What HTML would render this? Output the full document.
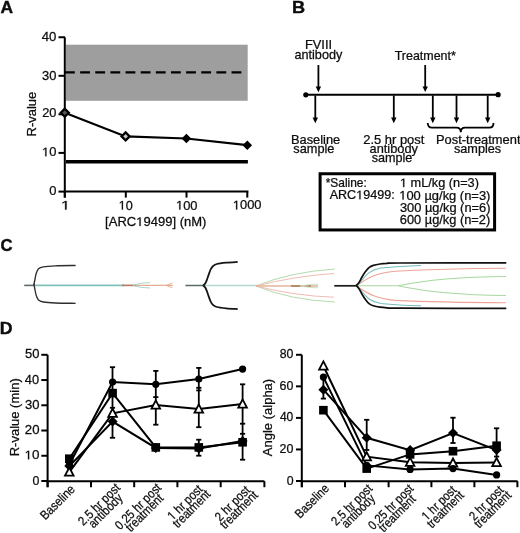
<!DOCTYPE html>
<html><head><meta charset="utf-8"><style>
html,body{margin:0;padding:0;background:#fff;overflow:hidden;}
svg{display:block;}
text{font-family:"Liberation Sans",sans-serif;fill:#0d0d0d;stroke:#0d0d0d;stroke-width:0.25px;}
svg{will-change:transform;}
</style></head><body>
<svg width="520" height="533" viewBox="0 0 520 533">
<rect x="0" y="0" width="520" height="533" fill="#fff"/>

<g transform="translate(0.47,12.7) scale(1.0250,1)"><text x="0.00" y="0.00" font-size="17" font-weight="bold" style="stroke-width:0.4px">A</text></g>
<rect x="66" y="44.7" width="181.7" height="56.1" fill="#9e9e9e"/>
<line x1="65" y1="72.4" x2="242" y2="72.4" stroke="#000" stroke-width="2.3" stroke-dasharray="9.8 5.34"/>
<line x1="66" y1="161.8" x2="247.9" y2="161.8" stroke="#000" stroke-width="3.6"/>
<line x1="64.8" y1="37.25" x2="64.8" y2="197.6" stroke="#000" stroke-width="2"/>
<line x1="64" y1="191.6" x2="248.4" y2="191.6" stroke="#000" stroke-width="2"/>
<line x1="58.5" y1="37.25" x2="65" y2="37.25" stroke="#000" stroke-width="2"/>
<line x1="58.5" y1="75.8" x2="65" y2="75.8" stroke="#000" stroke-width="2"/>
<line x1="58.5" y1="114.3" x2="65" y2="114.3" stroke="#000" stroke-width="2"/>
<line x1="58.5" y1="152.9" x2="65" y2="152.9" stroke="#000" stroke-width="2"/>
<line x1="58.5" y1="191.6" x2="65" y2="191.6" stroke="#000" stroke-width="2"/>
<g transform="translate(41.77,40.5) scale(1.0642,1)"><text x="0.00" y="0.00" font-size="12.4">40</text></g>
<g transform="translate(42.01,79.5) scale(1.0462,1)"><text x="0.00" y="0.00" font-size="12.4">30</text></g>
<g transform="translate(42.18,117.2) scale(1.0330,1)"><text x="0.00" y="0.00" font-size="12.4">20</text></g>
<g transform="translate(42.02,156.3) scale(1.0449,1)"><text x="0.00" y="0.00" font-size="12.4"> 0</text><path transform="translate(0.000,0.00) scale(0.006055,-0.006055)" d="M515 0V1237L197 1010V1180L530 1409H696V0Z" fill="#0d0d0d" stroke="#0d0d0d" stroke-width="41.3"/></g>
<g transform="translate(49.31,194.5) scale(1.0449,1)"><text x="0.00" y="0.00" font-size="12.4">0</text></g>
<line x1="64.8" y1="191.6" x2="64.8" y2="197.6" stroke="#000" stroke-width="2"/>
<line x1="125.8" y1="191.6" x2="125.8" y2="197.6" stroke="#000" stroke-width="2"/>
<line x1="186.5" y1="191.6" x2="186.5" y2="197.6" stroke="#000" stroke-width="2"/>
<line x1="247.3" y1="191.6" x2="247.3" y2="197.6" stroke="#000" stroke-width="2"/>
<g transform="translate(60.88,209.6) scale(1.3538,1)"><text x="0.00" y="0.00" font-size="12.4"> </text><path transform="translate(0.000,0.00) scale(0.006055,-0.006055)" d="M515 0V1237L197 1010V1180L530 1409H696V0Z" fill="#0d0d0d" stroke="#0d0d0d" stroke-width="41.3"/></g>
<g transform="translate(118.65,209.6) scale(1.0204,1)"><text x="0.00" y="0.00" font-size="12.4"> 0</text><path transform="translate(0.000,0.00) scale(0.006055,-0.006055)" d="M515 0V1237L197 1010V1180L530 1409H696V0Z" fill="#0d0d0d" stroke="#0d0d0d" stroke-width="41.3"/></g>
<g transform="translate(176.03,209.5) scale(1.0405,1)"><text x="0.00" y="0.00" font-size="12.4"> 00</text><path transform="translate(0.000,0.00) scale(0.006055,-0.006055)" d="M515 0V1237L197 1010V1180L530 1409H696V0Z" fill="#0d0d0d" stroke="#0d0d0d" stroke-width="41.3"/></g>
<g transform="translate(232.83,209.4) scale(1.0411,1)"><text x="0.00" y="0.00" font-size="12.4"> 000</text><path transform="translate(0.000,0.00) scale(0.006055,-0.006055)" d="M515 0V1237L197 1010V1180L530 1409H696V0Z" fill="#0d0d0d" stroke="#0d0d0d" stroke-width="41.3"/></g>
<g transform="translate(105.10,225.9) scale(1.0684,1)"><text x="0.00" y="0.00" font-size="12.2">[ARC 9499] (nM)</text><path transform="translate(29.109,0.00) scale(0.005957,-0.005957)" d="M515 0V1237L197 1010V1180L530 1409H696V0Z" fill="#0d0d0d" stroke="#0d0d0d" stroke-width="42.0"/></g>
<text transform="translate(35.9,114.1) rotate(-90) scale(1.03,1)" font-size="12.6" text-anchor="middle">R-value</text>
<polyline points="64.8,112.7 125.6,136.4 186.4,138.5 247.3,145.2" fill="none" stroke="#000" stroke-width="2.2"/>
<path d="M64.8 108.7L68.8 112.7L64.8 116.7L60.8 112.7Z" fill="#555" stroke="#000" stroke-width="2.3"/>
<path d="M125.6 132.4L129.6 136.4L125.6 140.4L121.6 136.4Z" fill="#c8c8c8" stroke="#000" stroke-width="2.3"/>
<path d="M186.4 133.7L191.20000000000002 138.5L186.4 143.3L181.6 138.5Z" fill="#000"/>
<path d="M247.3 140.39999999999998L252.10000000000002 145.2L247.3 150.0L242.5 145.2Z" fill="#000"/>
<g transform="translate(291.93,12.7) scale(1.0698,1)"><text x="0.00" y="0.00" font-size="17" font-weight="bold" style="stroke-width:0.4px">B</text></g>
<g transform="translate(304.98,48.7) scale(1.0513,1)"><text x="0.00" y="0.00" font-size="12.2">FVIII</text></g>
<g transform="translate(294.41,59.1) scale(1.0398,1)"><text x="0.00" y="0.00" font-size="12.2">antibody</text></g>
<line x1="318.4" y1="65" x2="318.4" y2="88.2" stroke="#000" stroke-width="1.8"/>
<path d="M315.7 86.60000000000001L321.09999999999997 86.60000000000001L318.4 92.2Z" fill="#000"/>
<g transform="translate(394.67,60.2) scale(1.0226,1)"><text x="0.00" y="0.00" font-size="12.2">Treatment*</text></g>
<line x1="425.2" y1="65" x2="425.2" y2="88" stroke="#000" stroke-width="1.8"/>
<path d="M422.5 86.4L427.9 86.4L425.2 92Z" fill="#000"/>
<line x1="305.8" y1="94.8" x2="498.1" y2="94.8" stroke="#000" stroke-width="2"/>
<circle cx="305.8" cy="94.8" r="2.6" fill="#000"/>
<circle cx="498.1" cy="94.7" r="2.6" fill="#000"/>
<line x1="315.3" y1="95.5" x2="315.3" y2="119.2" stroke="#000" stroke-width="1.8"/>
<path d="M312.6 117.60000000000001L318.0 117.60000000000001L315.3 123.2Z" fill="#000"/>
<line x1="393.8" y1="95.5" x2="393.8" y2="119.2" stroke="#000" stroke-width="1.8"/>
<path d="M391.1 117.60000000000001L396.5 117.60000000000001L393.8 123.2Z" fill="#000"/>
<line x1="432.8" y1="95.5" x2="432.8" y2="119.2" stroke="#000" stroke-width="1.8"/>
<path d="M430.1 117.60000000000001L435.5 117.60000000000001L432.8 123.2Z" fill="#000"/>
<line x1="456.5" y1="95.5" x2="456.5" y2="119.2" stroke="#000" stroke-width="1.8"/>
<path d="M453.8 117.60000000000001L459.2 117.60000000000001L456.5 123.2Z" fill="#000"/>
<line x1="487.7" y1="95.5" x2="487.7" y2="119.2" stroke="#000" stroke-width="1.8"/>
<path d="M485.0 117.60000000000001L490.4 117.60000000000001L487.7 123.2Z" fill="#000"/>
<path d="M427.7 123 Q428 127.7 432 127.7 L456.5 127.7 Q460.8 127.7 460.8 132.3 Q460.8 127.7 465 127.7 L489.5 127.7 Q493.5 127.7 493.5 123" fill="none" stroke="#000" stroke-width="1.8"/>
<g transform="translate(290.98,144.1) scale(1.0527,1)"><text x="0.00" y="0.00" font-size="12.2">Baseline</text></g>
<g transform="translate(293.34,152.7) scale(1.0460,1)"><text x="0.00" y="0.00" font-size="12.2">sample</text></g>
<g transform="translate(363.27,143.5) scale(1.0608,1)"><text x="0.00" y="0.00" font-size="12.2">2.5 hr post</text></g>
<g transform="translate(369.61,153.1) scale(1.0485,1)"><text x="0.00" y="0.00" font-size="12.2">antibody</text></g>
<g transform="translate(371.64,161.9) scale(1.0356,1)"><text x="0.00" y="0.00" font-size="12.2">sample</text></g>
<g transform="translate(435.98,143.9) scale(1.0566,1)"><text x="0.00" y="0.00" font-size="12.2">Post-treatment</text></g>
<g transform="translate(453.94,153.2) scale(1.0407,1)"><text x="0.00" y="0.00" font-size="12.2">samples</text></g>
<rect x="320.1" y="173.75" width="174.5" height="56.2" fill="none" stroke="#000" stroke-width="3"/>
<g transform="translate(325.68,187.2) scale(0.9786,1)"><text x="0.00" y="0.00" font-size="12.2">*Saline:</text></g>
<g transform="translate(329.63,199.2) scale(1.0329,1)"><text x="0.00" y="0.00" font-size="12.2">ARC 9499:</text><path transform="translate(25.719,0.00) scale(0.005957,-0.005957)" d="M515 0V1237L197 1010V1180L530 1409H696V0Z" fill="#0d0d0d" stroke="#0d0d0d" stroke-width="42.0"/></g>
<g transform="translate(399.96,187.1) scale(1.0446,1)"><text x="0.00" y="0.00" font-size="12.2">  mL/kg (n=3)</text><path transform="translate(0.000,0.00) scale(0.005957,-0.005957)" d="M515 0V1237L197 1010V1180L530 1409H696V0Z" fill="#0d0d0d" stroke="#0d0d0d" stroke-width="42.0"/></g>
<g transform="translate(399.24,199.5) scale(1.0607,1)"><text x="0.00" y="0.00" font-size="12.2"> 00 µg/kg (n=3)</text><path transform="translate(0.000,0.00) scale(0.005957,-0.005957)" d="M515 0V1237L197 1010V1180L530 1409H696V0Z" fill="#0d0d0d" stroke="#0d0d0d" stroke-width="42.0"/></g>
<g transform="translate(399.91,212.0) scale(1.0529,1)"><text x="0.00" y="0.00" font-size="12.2">300 µg/kg (n=6)</text></g>
<g transform="translate(399.77,224.4) scale(1.0521,1)"><text x="0.00" y="0.00" font-size="12.2">600 µg/kg (n=2)</text></g>
<g transform="translate(0.41,250.6) scale(0.9826,1)"><text x="0.00" y="0.00" font-size="17" font-weight="bold" style="stroke-width:0.4px">C</text></g>
<line x1="24.2" y1="285.4" x2="34" y2="285.4" stroke="#5d6b69" stroke-width="1.6"/>
<line x1="33.5" y1="285.4" x2="124" y2="285.4" stroke="#80c2b9" stroke-width="1.8"/>
<path d="M33.80 285.20 C34.00 284.17 34.60 280.95 35.00 279.00 C35.40 277.05 35.62 275.20 36.20 273.50 C36.78 271.80 37.32 269.92 38.50 268.80 C39.68 267.68 40.48 267.30 43.30 266.80 C46.12 266.30 50.02 266.02 55.40 265.80 C60.78 265.58 72.23 265.55 75.60 265.50" fill="none" stroke="#2e2e2e" stroke-width="1.35"/>
<path d="M33.80 283.60 C34.00 284.63 34.60 287.85 35.00 289.80 C35.40 291.75 35.62 293.60 36.20 295.30 C36.78 297.00 37.32 298.88 38.50 300.00 C39.68 301.12 40.48 301.50 43.30 302.00 C46.12 302.50 50.02 302.78 55.40 303.00 C60.78 303.22 72.23 303.25 75.60 303.30" fill="none" stroke="#2e2e2e" stroke-width="1.35"/>
<path d="M122 285.4 L173 285.4" stroke="#e6ae90" stroke-width="1.4" fill="none"/>
<path d="M122 285.4 L136 285.4" stroke="#b08068" stroke-width="1.6" fill="none"/>
<path d="M133 285.4 Q140 282.6 150 282.6 M133 285.4 Q140 288 150 288" stroke="#9fd0c8" stroke-width="0.9" fill="none"/>
<path d="M166 285.4 L172.5 283 M166 285.4 L172.5 287.8" stroke="#e6ae90" stroke-width="0.9" fill="none"/>
<line x1="185.4" y1="285.5" x2="203.5" y2="285.5" stroke="#5d6b69" stroke-width="1.5"/>
<line x1="203" y1="285.5" x2="258" y2="285.5" stroke="#b2d8d2" stroke-width="1.5"/>
<path d="M203.10 285.60 C203.48 285.22 204.72 284.40 205.40 283.30 C206.08 282.20 206.65 280.45 207.20 279.00 C207.75 277.55 208.10 276.23 208.70 274.60 C209.30 272.97 210.07 270.63 210.80 269.20 C211.53 267.77 212.08 266.87 213.10 266.00 C214.12 265.13 214.72 264.55 216.90 264.00 C219.08 263.45 222.73 263.05 226.20 262.70 C229.67 262.35 235.78 262.03 237.70 261.90" fill="none" stroke="#151515" stroke-width="1.8"/>
<path d="M203.10 285.40 C203.48 285.78 204.72 286.60 205.40 287.70 C206.08 288.80 206.65 290.55 207.20 292.00 C207.75 293.45 208.10 294.77 208.70 296.40 C209.30 298.03 210.07 300.37 210.80 301.80 C211.53 303.23 212.08 304.13 213.10 305.00 C214.12 305.87 214.72 306.45 216.90 307.00 C219.08 307.55 222.73 307.95 226.20 308.30 C229.67 308.65 235.78 308.97 237.70 309.10" fill="none" stroke="#151515" stroke-width="1.8"/>
<path d="M256 286 Q290 272 334.8 269 M256 286 Q290 300 334.8 302" stroke="#b4dcac" stroke-width="1.0" fill="none"/>
<path d="M256 286 Q295 276 334 273.5 M256 286 Q295 296 334 297.2" stroke="#f0bcb4" stroke-width="1.0" fill="none"/>
<path d="M256 286 L318 286" stroke="#e2b49a" stroke-width="1.3" fill="none"/>
<path d="M291 286 L311 286" stroke="#b07a5a" stroke-width="1.6" fill="none"/>
<path d="M300 286 Q310 284.2 318 284.2 M300 286 Q310 287.8 318 287.8" stroke="#c8e0c0" stroke-width="0.9" fill="none"/>
<line x1="334.3" y1="285.8" x2="357" y2="285.8" stroke="#1a1a1a" stroke-width="1.7"/>
<path d="M356 285.8 L398 285.8 Q440 277 506 276.5 M398 285.8 Q440 295 506 295.5" stroke="#a8d8a0" stroke-width="1.05" fill="none"/>
<path d="M356 285.8 C366 280 372 273.5 395 271.2 C430 269.5 470 268.6 506 268.3" stroke="#eda496" stroke-width="1.1" fill="none"/>
<path d="M356 285.8 C366 291.6 372 298.1 395 300.4 C430 302 470 302.6 506 302.8" stroke="#eda496" stroke-width="1.1" fill="none"/>
<path d="M357 285.8 C365 277 368 270 381 268 C398 266.2 410 265.8 421 265.5" stroke="#74bcb8" stroke-width="1.05" fill="none"/>
<path d="M357 285.8 C365 294.6 368 301.6 381 303.6 C398 305.4 410 305.6 421 305.8" stroke="#74bcb8" stroke-width="1.05" fill="none"/>
<path d="M356.00 285.80 C356.50 285.25 358.00 283.97 359.00 282.50 C360.00 281.03 360.92 278.82 362.00 277.00 C363.08 275.18 364.33 273.17 365.50 271.60 C366.67 270.03 367.70 268.63 369.00 267.60 C370.30 266.57 371.47 266.00 373.30 265.40 C375.13 264.80 377.72 264.33 380.00 264.00 C382.28 263.67 383.67 263.57 387.00 263.40 C390.33 263.23 380.12 263.10 400.00 263.00 C419.88 262.90 488.58 262.83 506.30 262.80" fill="none" stroke="#111" stroke-width="1.7"/>
<path d="M356.00 285.40 C356.50 285.95 358.00 287.23 359.00 288.70 C360.00 290.17 360.92 292.38 362.00 294.20 C363.08 296.02 364.33 298.03 365.50 299.60 C366.67 301.17 367.70 302.57 369.00 303.60 C370.30 304.63 371.47 305.20 373.30 305.80 C375.13 306.40 377.72 306.87 380.00 307.20 C382.28 307.53 383.67 307.63 387.00 307.80 C390.33 307.97 380.12 308.10 400.00 308.20 C419.88 308.30 488.58 308.37 506.30 308.40" fill="none" stroke="#111" stroke-width="1.7"/>
<g transform="translate(-0.14,333.6) scale(1.0419,1)"><text x="0.00" y="0.00" font-size="17" font-weight="bold" style="stroke-width:0.4px">D</text></g>
<line x1="47.6" y1="354.8" x2="47.6" y2="487.2" stroke="#000" stroke-width="2"/>
<line x1="46.6" y1="481.2" x2="264.4" y2="481.2" stroke="#000" stroke-width="2"/>
<line x1="41.3" y1="354.80" x2="47.6" y2="354.80" stroke="#000" stroke-width="2"/>
<g transform="translate(25.11,358.40000000000003) scale(1.0462,1)"><text x="0.00" y="0.00" font-size="12.4">50</text></g>
<line x1="41.3" y1="380.04" x2="47.6" y2="380.04" stroke="#000" stroke-width="2"/>
<g transform="translate(24.87,383.64000000000004) scale(1.0340,1)"><text x="0.00" y="0.00" font-size="12.4">40</text></g>
<line x1="41.3" y1="405.28" x2="47.6" y2="405.28" stroke="#000" stroke-width="2"/>
<g transform="translate(25.00,408.88000000000005) scale(1.0538,1)"><text x="0.00" y="0.00" font-size="12.4">30</text></g>
<line x1="41.3" y1="430.52" x2="47.6" y2="430.52" stroke="#000" stroke-width="2"/>
<g transform="translate(24.87,434.12) scale(1.0641,1)"><text x="0.00" y="0.00" font-size="12.4">20</text></g>
<line x1="41.3" y1="455.76" x2="47.6" y2="455.76" stroke="#000" stroke-width="2"/>
<g transform="translate(24.58,459.36) scale(1.0857,1)"><text x="0.00" y="0.00" font-size="12.4"> 0</text><path transform="translate(0.000,0.00) scale(0.006055,-0.006055)" d="M515 0V1237L197 1010V1180L530 1409H696V0Z" fill="#0d0d0d" stroke="#0d0d0d" stroke-width="41.3"/></g>
<line x1="41.3" y1="481.00" x2="47.6" y2="481.00" stroke="#000" stroke-width="2"/>
<g transform="translate(32.53,484.6) scale(0.9959,1)"><text x="0.00" y="0.00" font-size="12.4">0</text></g>
<line x1="47.6" y1="481.2" x2="47.6" y2="487.2" stroke="#000" stroke-width="2"/>
<line x1="91" y1="481.2" x2="91" y2="487.2" stroke="#000" stroke-width="2"/>
<line x1="134.2" y1="481.2" x2="134.2" y2="487.2" stroke="#000" stroke-width="2"/>
<line x1="177.4" y1="481.2" x2="177.4" y2="487.2" stroke="#000" stroke-width="2"/>
<line x1="220.7" y1="481.2" x2="220.7" y2="487.2" stroke="#000" stroke-width="2"/>
<line x1="264.4" y1="481.2" x2="264.4" y2="487.2" stroke="#000" stroke-width="2"/>
<text transform="translate(18.6,417.3) rotate(-90)" font-size="13" text-anchor="middle">R-value (min)</text>
<line x1="301.8" y1="354.8" x2="301.8" y2="487.2" stroke="#000" stroke-width="2"/>
<line x1="300.8" y1="481.2" x2="517.6" y2="481.2" stroke="#000" stroke-width="2"/>
<line x1="296" y1="354.80" x2="301.8" y2="354.80" stroke="#000" stroke-width="2"/>
<g transform="translate(279.63,358.3) scale(0.9923,1)"><text x="0.00" y="0.00" font-size="12.4">80</text></g>
<line x1="296" y1="386.35" x2="301.8" y2="386.35" stroke="#000" stroke-width="2"/>
<g transform="translate(279.50,389.85) scale(1.0019,1)"><text x="0.00" y="0.00" font-size="12.4">60</text></g>
<line x1="296" y1="417.90" x2="301.8" y2="417.90" stroke="#000" stroke-width="2"/>
<g transform="translate(279.88,421.40000000000003) scale(0.9736,1)"><text x="0.00" y="0.00" font-size="12.4">40</text></g>
<line x1="296" y1="449.45" x2="301.8" y2="449.45" stroke="#000" stroke-width="2"/>
<g transform="translate(279.50,452.95000000000005) scale(1.0019,1)"><text x="0.00" y="0.00" font-size="12.4">20</text></g>
<line x1="296" y1="481.00" x2="301.8" y2="481.00" stroke="#000" stroke-width="2"/>
<g transform="translate(286.73,484.6) scale(0.9959,1)"><text x="0.00" y="0.00" font-size="12.4">0</text></g>
<line x1="301.8" y1="481.2" x2="301.8" y2="487.2" stroke="#000" stroke-width="2"/>
<line x1="345" y1="481.2" x2="345" y2="487.2" stroke="#000" stroke-width="2"/>
<line x1="388.6" y1="481.2" x2="388.6" y2="487.2" stroke="#000" stroke-width="2"/>
<line x1="431.4" y1="481.2" x2="431.4" y2="487.2" stroke="#000" stroke-width="2"/>
<line x1="474.4" y1="481.2" x2="474.4" y2="487.2" stroke="#000" stroke-width="2"/>
<line x1="517.4" y1="481.2" x2="517.4" y2="487.2" stroke="#000" stroke-width="2"/>
<text transform="translate(272.3,417.5) rotate(-90)" font-size="13" text-anchor="middle">Angle (alpha)</text>
<g transform="translate(75.8,490.0) rotate(-45) scale(0.88,1)"><text x="-49.10" y="0.00" font-size="12.8">Baseline</text></g>
<g transform="translate(120.9,488.6) rotate(-45) scale(0.88,1)"><text x="-60.48" y="0.00" font-size="12.8">2.5 hr post</text><text x="-54.43" y="9.00" font-size="12.8">antibody</text></g>
<g transform="translate(162.1,488.4) rotate(-45) scale(0.88,1)"><text x="-67.59" y="0.00" font-size="12.8">0.25 hr post</text><text x="-60.83" y="9.00" font-size="12.8">treatment</text></g>
<g transform="translate(204.9,488.6) rotate(-45) scale(0.88,1)"><text x="-51.93" y="0.00" font-size="12.8">  hr post</text><path transform="translate(-51.933,0.00) scale(0.006250,-0.006250)" d="M515 0V1237L197 1010V1180L530 1409H696V0Z" fill="#0d0d0d" stroke="#0d0d0d" stroke-width="40.0"/><text x="-54.06" y="9.00" font-size="12.8">treatment</text></g>
<g transform="translate(252.3,489.6) rotate(-45) scale(0.88,1)"><text x="-51.93" y="0.00" font-size="12.8">2 hr post</text><text x="-54.06" y="9.00" font-size="12.8">treatment</text></g>
<g transform="translate(329.9,489.2) rotate(-45) scale(0.86,1)"><text x="-49.10" y="0.00" font-size="12.8">Baseline</text></g>
<g transform="translate(373.1,489.4) rotate(-45) scale(0.86,1)"><text x="-60.48" y="0.00" font-size="12.8">2.5 hr post</text><text x="-54.43" y="9.00" font-size="12.8">antibody</text></g>
<g transform="translate(414.3,489.4) rotate(-45) scale(0.86,1)"><text x="-67.59" y="0.00" font-size="12.8">0.25 hr post</text><text x="-60.83" y="9.00" font-size="12.8">treatment</text></g>
<g transform="translate(458.4,489.6) rotate(-45) scale(0.86,1)"><text x="-51.93" y="0.00" font-size="12.8">  hr post</text><path transform="translate(-51.933,0.00) scale(0.006250,-0.006250)" d="M515 0V1237L197 1010V1180L530 1409H696V0Z" fill="#0d0d0d" stroke="#0d0d0d" stroke-width="40.0"/><text x="-54.06" y="9.00" font-size="12.8">treatment</text></g>
<g transform="translate(505.7,489.6) rotate(-45) scale(0.86,1)"><text x="-51.93" y="0.00" font-size="12.8">2 hr post</text><text x="-54.06" y="9.00" font-size="12.8">treatment</text></g>
<line x1="112.5" y1="367.2" x2="112.5" y2="437.8" stroke="#000" stroke-width="1.8"/>
<line x1="109.9" y1="367.2" x2="115.1" y2="367.2" stroke="#000" stroke-width="1.8"/>
<line x1="109.9" y1="407.8" x2="115.1" y2="407.8" stroke="#000" stroke-width="1.8"/>
<line x1="109.9" y1="437.8" x2="115.1" y2="437.8" stroke="#000" stroke-width="1.8"/>
<line x1="155.8" y1="370.9" x2="155.8" y2="424.7" stroke="#000" stroke-width="1.8"/>
<line x1="153.20000000000002" y1="370.9" x2="158.4" y2="370.9" stroke="#000" stroke-width="1.8"/>
<line x1="153.20000000000002" y1="397.1" x2="158.4" y2="397.1" stroke="#000" stroke-width="1.8"/>
<line x1="153.20000000000002" y1="424.7" x2="158.4" y2="424.7" stroke="#000" stroke-width="1.8"/>
<line x1="198.8" y1="367.9" x2="198.8" y2="427.2" stroke="#000" stroke-width="1.8"/>
<line x1="196.20000000000002" y1="367.9" x2="201.4" y2="367.9" stroke="#000" stroke-width="1.8"/>
<line x1="196.20000000000002" y1="387.8" x2="201.4" y2="387.8" stroke="#000" stroke-width="1.8"/>
<line x1="196.20000000000002" y1="390.4" x2="201.4" y2="390.4" stroke="#000" stroke-width="1.8"/>
<line x1="196.20000000000002" y1="427.2" x2="201.4" y2="427.2" stroke="#000" stroke-width="1.8"/>
<line x1="198.8" y1="439.7" x2="198.8" y2="455.7" stroke="#000" stroke-width="1.8"/>
<line x1="196.20000000000002" y1="439.7" x2="201.4" y2="439.7" stroke="#000" stroke-width="1.8"/>
<line x1="196.20000000000002" y1="455.7" x2="201.4" y2="455.7" stroke="#000" stroke-width="1.8"/>
<line x1="242.6" y1="384.3" x2="242.6" y2="459.7" stroke="#000" stroke-width="1.8"/>
<line x1="240.0" y1="384.3" x2="245.2" y2="384.3" stroke="#000" stroke-width="1.8"/>
<line x1="240.0" y1="423.7" x2="245.2" y2="423.7" stroke="#000" stroke-width="1.8"/>
<line x1="240.0" y1="433.8" x2="245.2" y2="433.8" stroke="#000" stroke-width="1.8"/>
<line x1="240.0" y1="459.7" x2="245.2" y2="459.7" stroke="#000" stroke-width="1.8"/>
<polyline points="69.3,466.1 112.6,421.6 155.8,447.9 198.8,448.4 242.6,441.1" fill="none" stroke="#000" stroke-width="2"/>
<polyline points="69.3,458.7 112.6,393.1 155.8,447.4 198.8,447.4 242.6,442.3" fill="none" stroke="#000" stroke-width="2"/>
<polyline points="69.3,472.1 112.6,413.3 155.8,405.0 198.8,409.0 242.6,404.0" fill="none" stroke="#000" stroke-width="2"/>
<polyline points="69.3,464.8 112.6,382.0 155.8,384.3 198.8,379.0 242.6,369.1" fill="none" stroke="#000" stroke-width="2"/>
<path d="M69.3 461.1L74.3 466.1L69.3 471.1L64.3 466.1Z" fill="#000"/>
<path d="M112.6 416.6L117.6 421.6L112.6 426.6L107.6 421.6Z" fill="#000"/>
<path d="M155.8 442.9L160.8 447.9L155.8 452.9L150.8 447.9Z" fill="#000"/>
<path d="M198.8 443.4L203.8 448.4L198.8 453.4L193.8 448.4Z" fill="#000"/>
<path d="M242.6 436.1L247.6 441.1L242.6 446.1L237.6 441.1Z" fill="#000"/>
<rect x="65.0" y="454.4" width="8.6" height="8.6" fill="#000"/>
<rect x="108.3" y="388.8" width="8.6" height="8.6" fill="#000"/>
<rect x="151.5" y="443.1" width="8.6" height="8.6" fill="#000"/>
<rect x="194.5" y="443.1" width="8.6" height="8.6" fill="#000"/>
<rect x="238.29999999999998" y="438.0" width="8.6" height="8.6" fill="#000"/>
<path d="M69.3 467.5L73.6 475.7L65.0 475.7Z" fill="#fff" stroke="#000" stroke-width="1.8"/>
<path d="M112.6 408.7L116.89999999999999 416.9L108.3 416.9Z" fill="#fff" stroke="#000" stroke-width="1.8"/>
<path d="M155.8 400.4L160.10000000000002 408.6L151.5 408.6Z" fill="#fff" stroke="#000" stroke-width="1.8"/>
<path d="M198.8 404.4L203.10000000000002 412.6L194.5 412.6Z" fill="#fff" stroke="#000" stroke-width="1.8"/>
<path d="M242.6 399.4L246.9 407.6L238.29999999999998 407.6Z" fill="#fff" stroke="#000" stroke-width="1.8"/>
<circle cx="69.3" cy="464.8" r="3.6" fill="#000"/>
<circle cx="112.6" cy="382.0" r="3.6" fill="#000"/>
<circle cx="155.8" cy="384.3" r="3.6" fill="#000"/>
<circle cx="198.8" cy="379.0" r="3.6" fill="#000"/>
<circle cx="242.6" cy="369.1" r="3.6" fill="#000"/>
<line x1="323.4" y1="380" x2="323.4" y2="398.6" stroke="#000" stroke-width="1.8"/>
<line x1="320.79999999999995" y1="398.6" x2="326.0" y2="398.6" stroke="#000" stroke-width="1.8"/>
<line x1="366.7" y1="419.8" x2="366.7" y2="450" stroke="#000" stroke-width="1.8"/>
<line x1="364.09999999999997" y1="419.8" x2="369.3" y2="419.8" stroke="#000" stroke-width="1.8"/>
<line x1="364.09999999999997" y1="450" x2="369.3" y2="450" stroke="#000" stroke-width="1.8"/>
<line x1="453.0" y1="417.7" x2="453.0" y2="443" stroke="#000" stroke-width="1.8"/>
<line x1="450.4" y1="417.7" x2="455.6" y2="417.7" stroke="#000" stroke-width="1.8"/>
<line x1="450.4" y1="443" x2="455.6" y2="443" stroke="#000" stroke-width="1.8"/>
<line x1="496.6" y1="428.3" x2="496.6" y2="456.6" stroke="#000" stroke-width="1.8"/>
<line x1="494.0" y1="428.3" x2="499.20000000000005" y2="428.3" stroke="#000" stroke-width="1.8"/>
<line x1="494.0" y1="456.6" x2="499.20000000000005" y2="456.6" stroke="#000" stroke-width="1.8"/>
<polyline points="323.4,389.7 366.7,437.8 410.1,450.1 453.0,433.1 496.6,450.1" fill="none" stroke="#000" stroke-width="2"/>
<polyline points="323.4,410.2 366.7,468.6 410.1,454.4 453.0,451.2 496.6,445.7" fill="none" stroke="#000" stroke-width="2"/>
<polyline points="323.4,366.0 366.7,456.7 410.1,462.3 453.0,463.1 496.6,462.6" fill="none" stroke="#000" stroke-width="2"/>
<polyline points="323.4,377.1 366.7,465.4 410.1,469.4 453.0,468.6 496.6,474.9" fill="none" stroke="#000" stroke-width="2"/>
<path d="M323.4 384.7L328.4 389.7L323.4 394.7L318.4 389.7Z" fill="#000"/>
<path d="M366.7 432.8L371.7 437.8L366.7 442.8L361.7 437.8Z" fill="#000"/>
<path d="M410.1 445.1L415.1 450.1L410.1 455.1L405.1 450.1Z" fill="#000"/>
<path d="M453.0 428.1L458.0 433.1L453.0 438.1L448.0 433.1Z" fill="#000"/>
<path d="M496.6 445.1L501.6 450.1L496.6 455.1L491.6 450.1Z" fill="#000"/>
<rect x="319.09999999999997" y="405.9" width="8.6" height="8.6" fill="#000"/>
<rect x="362.4" y="464.3" width="8.6" height="8.6" fill="#000"/>
<rect x="405.8" y="450.1" width="8.6" height="8.6" fill="#000"/>
<rect x="448.7" y="446.9" width="8.6" height="8.6" fill="#000"/>
<rect x="492.3" y="441.4" width="8.6" height="8.6" fill="#000"/>
<path d="M323.4 361.4L327.7 369.6L319.09999999999997 369.6Z" fill="#fff" stroke="#000" stroke-width="1.8"/>
<path d="M366.7 452.1L371.0 460.3L362.4 460.3Z" fill="#fff" stroke="#000" stroke-width="1.8"/>
<path d="M410.1 457.7L414.40000000000003 465.9L405.8 465.9Z" fill="#fff" stroke="#000" stroke-width="1.8"/>
<path d="M453.0 458.5L457.3 466.7L448.7 466.7Z" fill="#fff" stroke="#000" stroke-width="1.8"/>
<path d="M496.6 458.0L500.90000000000003 466.2L492.3 466.2Z" fill="#fff" stroke="#000" stroke-width="1.8"/>
<circle cx="323.4" cy="377.1" r="3.6" fill="#000"/>
<circle cx="366.7" cy="465.4" r="3.6" fill="#000"/>
<circle cx="410.1" cy="469.4" r="3.6" fill="#000"/>
<circle cx="453.0" cy="468.6" r="3.6" fill="#000"/>
<circle cx="496.6" cy="474.9" r="3.6" fill="#000"/>
</svg></body></html>
